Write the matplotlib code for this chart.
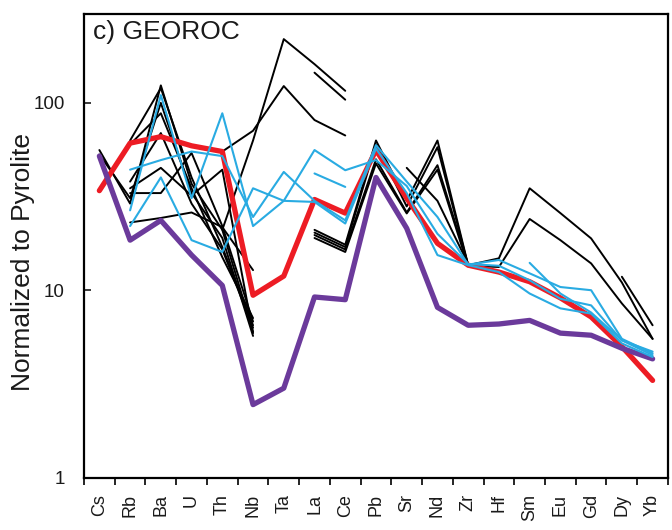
import numpy as np
import matplotlib
matplotlib.use("Agg")
from matplotlib import pyplot as plt

plt.rcParams['font.family'] = ['Liberation Sans', 'DejaVu Sans']

nan = np.nan

# elements (x axis categories)
elements = ['Cs', 'Rb', 'Ba', 'U', 'Th', 'Nb', 'Ta', 'La', 'Ce', 'Pb',
            'Sr', 'Nd', 'Zr', 'Hf', 'Sm', 'Eu', 'Gd', 'Dy', 'Yb']

# reference compositions (thick lines)
red_line = [34, 61, 66, 59, 55, 9.4, 11.9, 30.5, 25.8, 56,
            31, 17.8, 13.6, 12.5, 11.1, 9.1, 7.2, 5.0, 3.3]
purple_line = [52, 18.5, 23.6, 15.4, 10.6, 2.45, 3.0, 9.2, 8.9, 40,
               21.4, 8.1, 6.5, 6.6, 6.9, 5.9, 5.75, 4.9, 4.3]

# GEOROC samples, black (gaps = element not analysed)
black_1 = [56, 29, 124, 37, 21, 6.0] + [nan] * 13
black_2 = [53, 31, 100, 33, 19, 5.7] + [nan] * 13
black_3 = [nan, 63, 120, 40, 17, 6.5] + [nan] * 13
black_4 = [nan, 60, 88, 35, 15, 7.1] + [nan] * 13
black_5 = [nan, 38, 69, 29, 16.5, 6.3] + [nan] * 13
black_6 = [nan, 35, 45, 32, 44, 5.9] + [nan] * 13
black_7 = [nan, 23, 24.3, 26, 21.7, 12.8] + [nan] * 13
black_8 = [nan, 33, 33, 54, 22, 6.8] + [nan] * 13
black_9 = [nan] * 4 + [55, 71, 123, 81, 67] + [nan] * 10
black_10 = [nan] * 4 + [21, 63, 219, 161, 116] + [nan] * 10
black_11 = [nan] * 7 + [145, 104] + [nan] * 10
black_12 = [nan] * 7 + [21, 17.5, 63, 30, 63, 13.6, 14.8, 35, 25.8, 18.9, 11, 5.5]
black_13 = [nan] * 7 + [20.3, 17, 60, 28, 58, 13.5, 13.3, 24, 18.5, 13.9, 8.5, 5.5]
black_14 = [nan] * 7 + [19.7, 16.5, 50, 26, 46.5, 13.7] + [nan] * 6
black_15 = [nan] * 7 + [19, 16, 47.5, 25.7, 44, 13.4] + [nan] * 6
black_16 = [nan] * 10 + [45, 30, 13.8] + [nan] * 6
black_17 = [nan] * 17 + [11.8, 6.5]

# GEOROC samples, blue
blue_1 = [nan, 44, 49.5, 55, 52, 24.6, 42.8, 30, 23.6, 59.5,
          38, 24.6, 13.7, 14.5, 12.3, 10.4, 10, 5.5, 4.6]
blue_2 = [nan, 26.7, 110, 31, 88, 22, 30, 29.6, 22.7, 57,
          33, 15.4, 13.6, 12.5, 9.6, 8.0, 7.5, 5.2, 4.4]
blue_3 = [nan, 22, 40, 18.5, 16, 35, 30, 56, 43.7, 49.5,
          36, 20, 13.8, 13.5, 11.3, 9.0, 8.3, 5.4, 4.5]
blue_4 = [nan] * 7 + [42, 35.6] + [nan] * 10
blue_5 = [nan] * 14 + [14, 9.6, 7.6, 5.4, 4.7]

black_samples = [black_1, black_2, black_3, black_4, black_5, black_6,
                 black_7, black_8, black_9, black_10, black_11, black_12,
                 black_13, black_14, black_15, black_16, black_17]
blue_samples = [blue_1, blue_2, blue_3, blue_4, blue_5]

x = np.arange(len(elements)) + 0.5

fig = plt.figure(figsize=(6.72, 5.30), dpi=100)
ax = fig.add_axes([0.125, 0.099, 0.869, 0.8755])

line_kw = dict(solid_joinstyle='round', solid_capstyle='round')
for s in black_samples:
    ax.plot(x, np.array(s, dtype=float), color='black', lw=1.4, **line_kw)
ax.plot(x, red_line, color='#ED1C24', lw=3.8, **line_kw)
ax.plot(x, purple_line, color='#6B3A9B', lw=3.8, **line_kw)
for s in blue_samples:
    ax.plot(x, np.array(s, dtype=float), color='#29ABE2', lw=1.5, **line_kw)

ax.set_yscale('log')
ax.set_ylim(1, 300)
ax.set_xlim(0, len(elements))

# y axis: inward ticks at decades only
ax.set_yticks([1, 10, 100])
ax.set_yticklabels(['1', '10', '100'])
ax.yaxis.set_minor_locator(matplotlib.ticker.NullLocator())
ax.tick_params(axis='y', direction='in', length=5, width=1.2,
               labelsize=13.5, pad=14, colors='#1a1a1a')
ax.tick_params(axis='y', which='both', right=False)

# x axis: ticks between categories, labels centred
ax.set_xticks(np.arange(len(elements) + 1))
ax.set_xticklabels([])
ax.set_xticks(x, minor=True)
ax.set_xticklabels(elements, minor=True, rotation=90, fontsize=13)
ax.tick_params(axis='x', which='major', direction='out', length=5, width=1.2)
ax.tick_params(axis='x', which='minor', length=0, pad=12, colors='#1a1a1a')

for sp in ax.spines.values():
    sp.set_linewidth(1.6)

ax.set_ylabel('Normalized to Pyrolite', fontsize=19, color='#1a1a1a')
ax.yaxis.set_label_coords(-0.084, 0.464)

ax.text(0.015, 0.985, 'c) GEOROC', transform=ax.transAxes, fontsize=19,
        va='top', ha='left', color='#1a1a1a')

fig.savefig('out.png', dpi=100)
